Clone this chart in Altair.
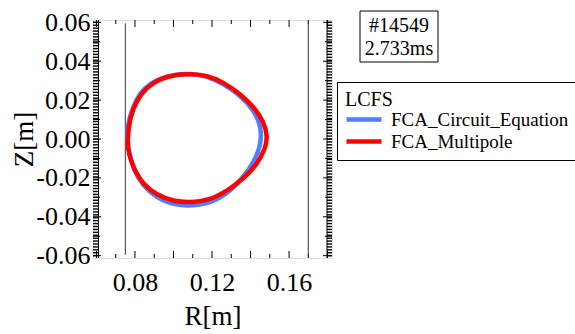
import altair as alt
import numpy as np
import pandas as pd

# ---- last closed flux surface, R and Z in metres ----
series_names = ["FCA_Circuit_Equation", "FCA_Multipole"]
series_colors = ["#4d80ff", "#ff0000"]

circuit_r = [0.0757, 0.0774, 0.0809, 0.0878, 0.0965, 0.1068, 0.1172, 0.1276,
             0.1363, 0.1423, 0.1455, 0.1455, 0.1420, 0.1345, 0.1259, 0.1172,
             0.1094, 0.0999, 0.0913, 0.0843, 0.0799, 0.0765]
circuit_z = [0.0000, -0.0095, -0.0198, -0.0278, -0.0330, -0.0346, -0.0337, -0.0286,
             -0.0198, -0.0110, -0.0024, 0.0062, 0.0147, 0.0225, 0.0284, 0.0324,
             0.0336, 0.0332, 0.0307, 0.0259, 0.0190, 0.0096]

multipole_r = [0.0760, 0.0765, 0.0799, 0.0843, 0.0913, 0.0999, 0.1094, 0.1190,
               0.1276, 0.1363, 0.1436, 0.1476, 0.1489, 0.1470, 0.1418, 0.1345,
               0.1259, 0.1172, 0.1094, 0.1016, 0.0930, 0.0861, 0.0809, 0.0774]
multipole_z = [0.0000, -0.0075, -0.0163, -0.0234, -0.0287, -0.0321, -0.0327, -0.0313,
               -0.0268, -0.0206, -0.0128, -0.0050, 0.0010, 0.0087, 0.0165, 0.0233,
               0.0293, 0.0327, 0.0334, 0.0332, 0.0310, 0.0267, 0.0199, 0.0113]

# vessel wall limits
wall_r = [0.075, 0.170]
wall_z = [-0.0595, 0.0595]

# tick marks and labels
x_labels = [0.08, 0.12, 0.16]
y_labels = [-0.06, -0.04, -0.02, 0.0, 0.02, 0.04, 0.06]
x_major = [0.06, 0.08, 0.10, 0.12, 0.14, 0.16, 0.18]
x_minor = [0.07, 0.09, 0.11, 0.13, 0.15, 0.17]
y_major = [-0.06, -0.04, -0.02, 0.0, 0.02, 0.04, 0.06]
y_minor = [-0.05, -0.03, -0.01, 0.01, 0.03, 0.05]
y_fine = list(np.round(np.arange(-0.0600, 0.06001, 0.0015), 5))

info_lines = ["#14549", "2.733ms"]
legend_title = "LCFS"

W, H = 239, 238
FONT = "Liberation Serif"

contours = pd.concat([
    pd.DataFrame({"R": circuit_r, "Z": circuit_z, "series": series_names[0],
                  "i": range(len(circuit_r))}),
    pd.DataFrame({"R": multipole_r, "Z": multipole_z, "series": series_names[1],
                  "i": range(len(multipole_r))}),
], ignore_index=True)

x_scale = alt.Scale(domain=[0.0582, 0.1823], nice=False, zero=False)
y_scale = alt.Scale(domain=[-0.0612, 0.0612], nice=False, zero=False)

axis_style = dict(
    ticks=False, tickSize=0, domain=False, grid=False,
    labelOverlap=False, labelFlush=False, format=".2f",
    labelFont=FONT, labelFontSize=26, labelColor="black", labelFontWeight="normal",
    titleFont=FONT, titleFontSize=27, titleColor="black", titleFontWeight="normal",
)
x_axis = alt.Axis(values=x_labels, title="R[m]", labelPadding=11,
                  titleY=66, titleBaseline="alphabetic", **axis_style)
y_axis = alt.Axis(values=y_labels, title="Z[m]", labelPadding=3,
                  titleX=-61, titleBaseline="alphabetic", **axis_style)


def X(field, axis=None):
    return alt.X(field, scale=x_scale, axis=axis)


def Y(field, axis=None):
    return alt.Y(field, scale=y_scale, axis=axis)


walls = alt.Chart(pd.DataFrame({"R": wall_r, "Z": wall_z[0], "Z2": wall_z[1]})).mark_rule(
    color="#555555", strokeWidth=1.2
).encode(x=X("R:Q"), y=Y("Z:Q"), y2="Z2:Q")

# the only layer carrying the labelled axes
lines = alt.Chart(contours).mark_line(
    strokeWidth=4.5, interpolate="basis-closed"
).encode(
    x=X("R:Q", x_axis),
    y=Y("Z:Q", y_axis),
    order=alt.Order("i:Q"),
    color=alt.Color(
        "series:N",
        scale=alt.Scale(domain=series_names, range=series_colors),
        legend=alt.Legend(
            title=legend_title, orient="none", legendX=244, legendY=62,
            strokeColor="black", fillColor="white", padding=8, cornerRadius=0,
            symbolType="M-2.5,0H2.5", symbolSize=196, symbolStrokeWidth=4.5,
            symbolOffset=9.5, labelOffset=17.5, labelLimit=400,
            labelFont=FONT, labelFontSize=19, labelColor="black",
            titleFont=FONT, titleFontSize=20, titleFontWeight="normal",
            titleColor="black", titlePadding=0, rowPadding=2,
        ),
    ),
)


def x_ticks(values, y0, y1):
    return alt.Chart(pd.DataFrame({"R": values})).mark_rule(
        color="black", strokeWidth=1
    ).encode(x=X("R:Q"), y=alt.value(y0), y2=alt.value(y1))


def y_ticks(values, x0, x1, width=1.0):
    return alt.Chart(pd.DataFrame({"Z": values})).mark_rule(
        color="black", strokeWidth=width
    ).encode(y=Y("Z:Q"), x=alt.value(x0), x2=alt.value(x1))


def side_line(x):
    return alt.Chart(pd.DataFrame({"v": [0]})).mark_rule(
        color="black", strokeWidth=1
    ).encode(x=alt.value(x), y=alt.value(0), y2=alt.value(H))


frame = [
    x_ticks(x_major, H, H - 7), x_ticks(x_minor, H, H - 4),
    x_ticks(x_major, 0, 7), x_ticks(x_minor, 0, 4),
    y_ticks(y_fine, 0, 5.5, 1.4), side_line(5.5),
    y_ticks(y_major, 0, 8), y_ticks(y_minor, 0, 7),
    y_ticks(y_fine, W - 5, W, 1.4), side_line(W - 5),
    y_ticks(y_major, W, W - 9), y_ticks(y_minor, W, W - 7),
]

info_box = alt.Chart(pd.DataFrame({"v": [0]})).mark_rect(
    fill="white", stroke="black", strokeWidth=1
).encode(x=alt.value(267), x2=alt.value(345), y=alt.value(-9), y2=alt.value(42))

info_text = alt.Chart(pd.DataFrame({"v": [0]})).mark_text(
    font=FONT, fontSize=20, lineHeight=23, align="center",
    baseline="alphabetic", color="black"
).encode(x=alt.value(306), y=alt.value(12), text=alt.value(info_lines))

chart = alt.layer(walls, lines, *frame, info_box, info_text).resolve_axis(
    x="independent", y="independent"
).properties(
    width=W, height=H,
    autosize=alt.AutoSizeParams(type="none"),
    padding={"left": 93, "top": 20, "right": 243, "bottom": 76},
).configure_view(
    stroke="black", strokeWidth=1
).configure(
    locale=alt.Locale(number=alt.NumberLocale(
        decimal=".", thousands=",", grouping=[3], currency=["", ""], minus="-")),
    style={"guide-label": {"font": FONT, "fontSize": 26, "fill": "black"},
           "guide-title": {"font": FONT, "fontWeight": "normal"}},
)

chart.save("out.html", embed_options={"renderer": "svg", "actions": False})
